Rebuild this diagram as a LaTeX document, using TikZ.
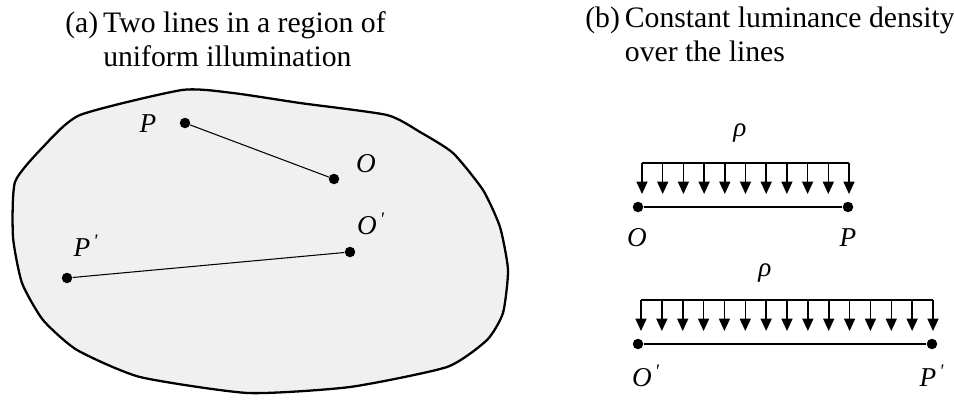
\documentclass[tikz,border=0pt]{standalone}
\usepackage{fontspec}
\setmainfont{Liberation Serif}
\usetikzlibrary{arrows.meta,positioning}
\definecolor{regionfill}{HTML}{F0F0F0}
\newcommand{\primed}[1]{\textit{#1}\textsuperscript{\,\textquotesingle}}
\tikzset{
  pt/.style={circle,fill=black,inner sep=0pt,minimum size=0.21cm},
  lbl/.style={font=\fontsize{15.5}{18}\selectfont\itshape,inner sep=1pt},
  title/.style={font=\fontsize{16.9}{19.5}\selectfont,inner sep=0pt,anchor=base west},
  seg/.style={line width=0.6pt},
  load/.style={-{Triangle[length=7pt,width=6.2pt]},line width=0.9pt},
}

\begin{document}
\begin{tikzpicture}[x=0.02cm,y=-0.02cm]
  \useasboundingbox (0,0) rectangle (954,403);
  \node[title] (ta) at (65,32) {\begin{tabular}[t]{@{}l@{\,}l@{}}(a)&Two lines in a region of\\&uniform illumination\end{tabular}};
  \node[title] (tb) at (585,27) {\begin{tabular}[t]{@{}l@{\,}l@{}}(b)&Constant luminance density\\&over the lines\end{tabular}};
  \draw[line width=1.3pt,fill=regionfill] plot[smooth cycle,tension=0.35] coordinates {(182,90) (233,93) (300,103) (387,115) (420,132) (453,153) (483,190) (500,227) (508,270) (503,313) (487,340) (447,367) (350,387) (248,393) (140,377) (77,350) (43,320) (22,283) (13,237) (15,182) (43,147) (80,115)};
  \node[pt] (p) at (185,123) {};
  \node[pt] (o) at (334,179) {};
  \node[pt] (pp) at (67,278) {};
  \node[pt] (op) at (350,252) {};
  \draw[seg] (p) -- (o);
  \draw[seg] (pp) -- (op);
  \node[lbl] (lp) at (148,124) {P};
  \node[lbl] (lo) at (366,164) {O};
  \node[lbl] (lpp) at (86,246) {\primed{P}};
  \node[lbl] (lop) at (371,224) {\primed{O}};
  \node[pt] (o1) at (638,207) {};
  \node[pt] (p1) at (848,207) {};
  \draw[seg] (o1) -- (p1);
  \node[lbl] (lo1) at (637,238) {O};
  \node[lbl] (lp1) at (848,238) {P};
  \node[lbl] (rho1) at (740,133) {ρ};
  \coordinate (b1l) at (642,163);
  \coordinate (b1r) at (849,163);
  \draw[line width=0.9pt] (b1l) -- (b1r);
  \foreach \i in {0,...,10} \draw[load] ({642+20.7*\i},163) -- ++(0,31);
  \node[pt] (o2) at (638,344) {};
  \node[pt] (p2) at (932,344) {};
  \draw[seg] (o2) -- (p2);
  \node[lbl] (lo2) at (646,376) {\primed{O}};
  \node[lbl] (lp2) at (932,376) {\primed{P}};
  \node[lbl] (rho2) at (765,273) {ρ};
  \coordinate (b2l) at (641,300);
  \coordinate (b2r) at (933,300);
  \draw[line width=0.9pt] (b2l) -- (b2r);
  \foreach \i in {0,...,14} \draw[load] ({641+20.857*\i},300) -- ++(0,31);
\end{tikzpicture}
\end{document}
